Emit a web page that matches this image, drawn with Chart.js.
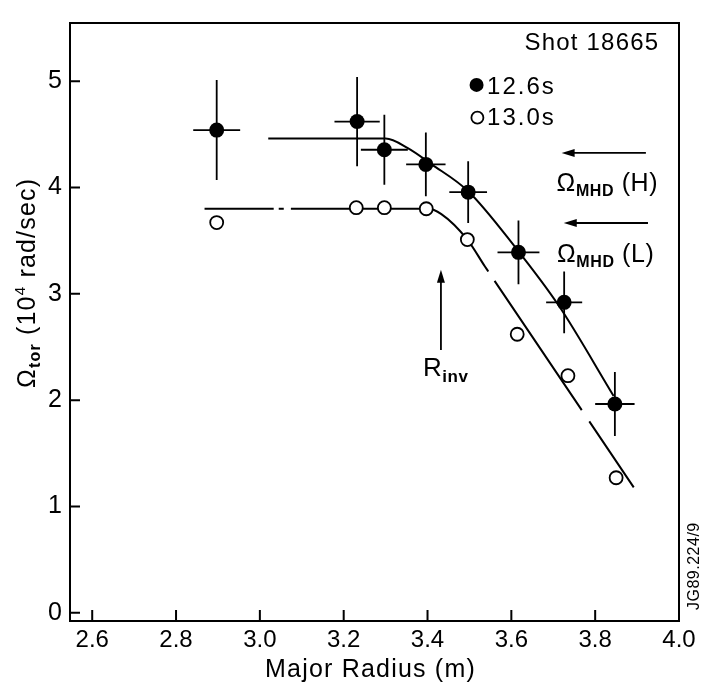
<!DOCTYPE html>
<html>
<head>
<script src="https://cdn.jsdelivr.net/npm/chart.js@4"></script>
<style>body{margin:0;background:#fff}</style>
</head>
<body>
<canvas id="chart" width="701" height="689"></canvas>
<script>
const xTicks = [2.6, 2.8, 3.0, 3.2, 3.4, 3.6, 3.8, 4.0];
const yTicks = [0, 1, 2, 3, 4, 5];

// 12.6 s - filled circles with error bars
const radius126 = [2.897, 3.232, 3.297, 3.396, 3.497, 3.617, 3.726, 3.847];
const omega126  = [4.54, 4.62, 4.355, 4.217, 3.956, 3.39, 2.92, 1.964];
const errR126   = [0.056, 0.054, 0.056, 0.047, 0.045, 0.05, 0.043, 0.047];
const errO126   = [0.47, 0.42, 0.33, 0.30, 0.29, 0.30, 0.29, 0.30];

// 13.0 s - open circles
const radius130 = [2.897, 3.23, 3.297, 3.397, 3.495, 3.614, 3.735, 3.85];
const omega130  = [3.67, 3.81, 3.81, 3.80, 3.51, 2.62, 2.23, 1.27];

// hand drawn fits through each set
const fitHR = [3.02, 3.30, 3.353, 3.409, 3.497, 3.609, 3.713, 3.844];
const fitHO = [4.46, 4.46, 4.37, 4.22, 3.965, 3.44, 2.89, 2.04];
const fitLR = [2.868, 3.033, 3.045, 3.057, 3.074, 3.40, 3.433, 3.495, 3.537, 3.545, 3.56, 3.768, 3.786, 3.892];
const fitLO = [3.80, 3.80, 3.80, 3.80, 3.80, 3.80, 3.75, 3.51, 3.257, 3.21, 3.122, 1.906, 1.80, 1.18];
const fitLGaps = [3.033, 3.057, 3.545, 3.768]; // the piece starting here is left blank

const FONT = '"Liberation Sans", Arial, Helvetica, sans-serif';

const pts = (xs, ys) => xs.map((x, i) => ({x: x, y: ys[i]}));

function rich(ctx, parts, x, y) {
  for (const p of parts) {
    ctx.font = (p.bold ? 'bold ' : '') + p.size + 'px ' + FONT;
    ctx.fillText(p.t, x, y + (p.dy || 0));
    x += ctx.measureText(p.t).width;
  }
}

function arrow(ctx, x0, y0, x1, y1) {
  const a = Math.atan2(y1 - y0, x1 - x0);
  ctx.beginPath();
  ctx.moveTo(x0, y0);
  ctx.lineTo(x1 - 8 * Math.cos(a), y1 - 8 * Math.sin(a));
  ctx.stroke();
  ctx.beginPath();
  ctx.moveTo(x1, y1);
  ctx.lineTo(x1 - 13 * Math.cos(a) + 4 * Math.sin(a), y1 - 13 * Math.sin(a) - 4 * Math.cos(a));
  ctx.lineTo(x1 - 13 * Math.cos(a) - 4 * Math.sin(a), y1 - 13 * Math.sin(a) + 4 * Math.cos(a));
  ctx.closePath();
  ctx.fill();
}

const decor = {
  id: 'decor',
  beforeDatasetsDraw(chart) {
    const ctx = chart.ctx, xs = chart.scales.x, ys = chart.scales.y;
    ctx.save();
    ctx.strokeStyle = '#000';
    ctx.lineWidth = 1.8;
    radius126.forEach((r, i) => {
      const px = xs.getPixelForValue(r), py = ys.getPixelForValue(omega126[i]);
      ctx.beginPath();
      ctx.moveTo(xs.getPixelForValue(r - errR126[i]), py);
      ctx.lineTo(xs.getPixelForValue(r + errR126[i]), py);
      ctx.moveTo(px, ys.getPixelForValue(omega126[i] + errO126[i]));
      ctx.lineTo(px, ys.getPixelForValue(omega126[i] - errO126[i]));
      ctx.stroke();
    });
    ctx.restore();
  },
  afterDraw(chart) {
    const ctx = chart.ctx, xs = chart.scales.x, ys = chart.scales.y;
    const a = chart.chartArea;
    const X = v => xs.getPixelForValue(v), Y = v => ys.getPixelForValue(v);
    ctx.save();
    ctx.strokeStyle = '#000';
    ctx.fillStyle = '#000';

    // frame and inward ticks
    ctx.lineWidth = 2;
    ctx.strokeRect(a.left, a.top, a.right - a.left, a.bottom - a.top);
    ctx.beginPath();
    xTicks.forEach(v => { ctx.moveTo(X(v), a.bottom); ctx.lineTo(X(v), a.bottom - 11); });
    yTicks.forEach(v => { ctx.moveTo(a.left, Y(v)); ctx.lineTo(a.left + 10, Y(v)); });
    ctx.stroke();

    // axis titles
    ctx.letterSpacing = '1.2px';
    ctx.textAlign = 'center';
    ctx.textBaseline = 'alphabetic';
    ctx.font = '25px ' + FONT;
    ctx.fillText('Major Radius (m)', (a.left + a.right) / 2 - 4, 677);
    ctx.textAlign = 'left';
    ctx.save();
    ctx.translate(35, 388);
    ctx.rotate(-Math.PI / 2);
    rich(ctx, [
      {t: 'Ω', size: 25},
      {t: 'tor', size: 16, bold: true, dy: 5},
      {t: ' (10', size: 25},
      {t: '4', size: 15, dy: -10},
      {t: ' rad/sec)', size: 25}
    ], 0, 0);
    ctx.restore();

    // shot label and legend
    ctx.textAlign = 'right';
    ctx.font = '24px ' + FONT;
    ctx.fillText('Shot 18665', X(3.953), Y(5.295));
    ctx.textAlign = 'left';
    ctx.letterSpacing = '2px';
    ctx.fillText('12.6s', X(3.542), Y(4.88));
    ctx.fillText('13.0s', X(3.542), Y(4.585));
    ctx.letterSpacing = '1.2px';
    ctx.beginPath();
    ctx.arc(X(3.517), Y(4.965), 7, 0, 2 * Math.PI);
    ctx.fill();
    ctx.lineWidth = 1.8;
    ctx.beginPath();
    ctx.arc(X(3.519), Y(4.657), 6, 0, 2 * Math.PI);
    ctx.stroke();

    // MHD frequency arrows
    ctx.lineWidth = 1.8;
    arrow(ctx, X(3.921), Y(4.325), X(3.720), Y(4.325));
    arrow(ctx, X(3.926), Y(3.666), X(3.725), Y(3.666));
    ctx.letterSpacing = '0.6px';
    rich(ctx, [{t: 'Ω', size: 25}, {t: 'MHD', size: 16, bold: true, dy: 5}, {t: ' (H)', size: 25}], X(3.708), Y(3.968));
    rich(ctx, [{t: 'Ω', size: 25}, {t: 'MHD', size: 16, bold: true, dy: 5}, {t: ' (L)', size: 25}], X(3.709), Y(3.303));

    // inversion radius
    arrow(ctx, X(3.432), Y(2.472), X(3.432), Y(3.226));
    rich(ctx, [{t: 'R', size: 26}, {t: 'inv', size: 17, bold: true, dy: 6}], X(3.389), Y(2.225));

    // figure reference
    ctx.letterSpacing = '0.5px';
    ctx.save();
    ctx.translate(699, 610);
    ctx.rotate(-Math.PI / 2);
    ctx.font = '16px ' + FONT;
    ctx.fillText('JG89.224/9', 0, 0);
    ctx.restore();
    ctx.restore();
  }
};

new Chart(document.getElementById('chart'), {
  type: 'scatter',
  data: {
    datasets: [
      {
        label: '12.6s',
        data: pts(radius126, omega126),
        pointRadius: 7.5,
        pointBackgroundColor: '#000',
        pointBorderColor: '#000',
        pointBorderWidth: 0,
        order: 1
      },
      {
        label: '13.0s',
        data: pts(radius130, omega130),
        pointRadius: 6.5,
        pointBackgroundColor: '#fff',
        pointBorderColor: '#000',
        pointBorderWidth: 1.8,
        order: 1
      },
      {
        label: 'fit H',
        data: pts(fitHR, fitHO),
        showLine: true,
        pointRadius: 0,
        borderColor: '#000',
        borderWidth: 2,
        cubicInterpolationMode: 'monotone',
        order: 2
      },
      {
        label: 'fit L',
        data: pts(fitLR, fitLO),
        showLine: true,
        pointRadius: 0,
        borderColor: '#000',
        borderWidth: 2,
        cubicInterpolationMode: 'monotone',
        segment: {
          borderColor: c => fitLGaps.includes(fitLR[c.p0DataIndex]) ? 'rgba(0,0,0,0)' : '#000'
        },
        order: 2
      }
    ]
  },
  options: {
    responsive: false,
    animation: false,
    devicePixelRatio: 1,
    layout: { padding: { top: 12, right: 22, left: 0, bottom: 0 } },
    plugins: { legend: { display: false }, tooltip: { enabled: false } },
    scales: {
      x: {
        type: 'linear',
        min: 2.547,
        max: 4.0,
        afterBuildTicks: s => { s.ticks = xTicks.map(v => ({value: v})); },
        afterFit: s => { s.height = 68; },
        grid: { display: false, drawTicks: false },
        border: { display: false },
        ticks: {
          color: '#000',
          font: { family: FONT, size: 24 },
          padding: 5,
          maxRotation: 0,
          autoSkip: false,
          callback: v => v.toFixed(1)
        }
      },
      y: {
        min: -0.077,
        max: 5.547,
        afterBuildTicks: s => { s.ticks = yTicks.map(v => ({value: v})); },
        afterFit: s => { s.width = 70; },
        grid: { display: false, drawTicks: false },
        border: { display: false },
        ticks: {
          color: '#000',
          font: { family: FONT, size: 25 },
          padding: 8,
          callback: v => String(v)
        }
      }
    }
  },
  plugins: [decor]
});
</script>
</body>
</html>
